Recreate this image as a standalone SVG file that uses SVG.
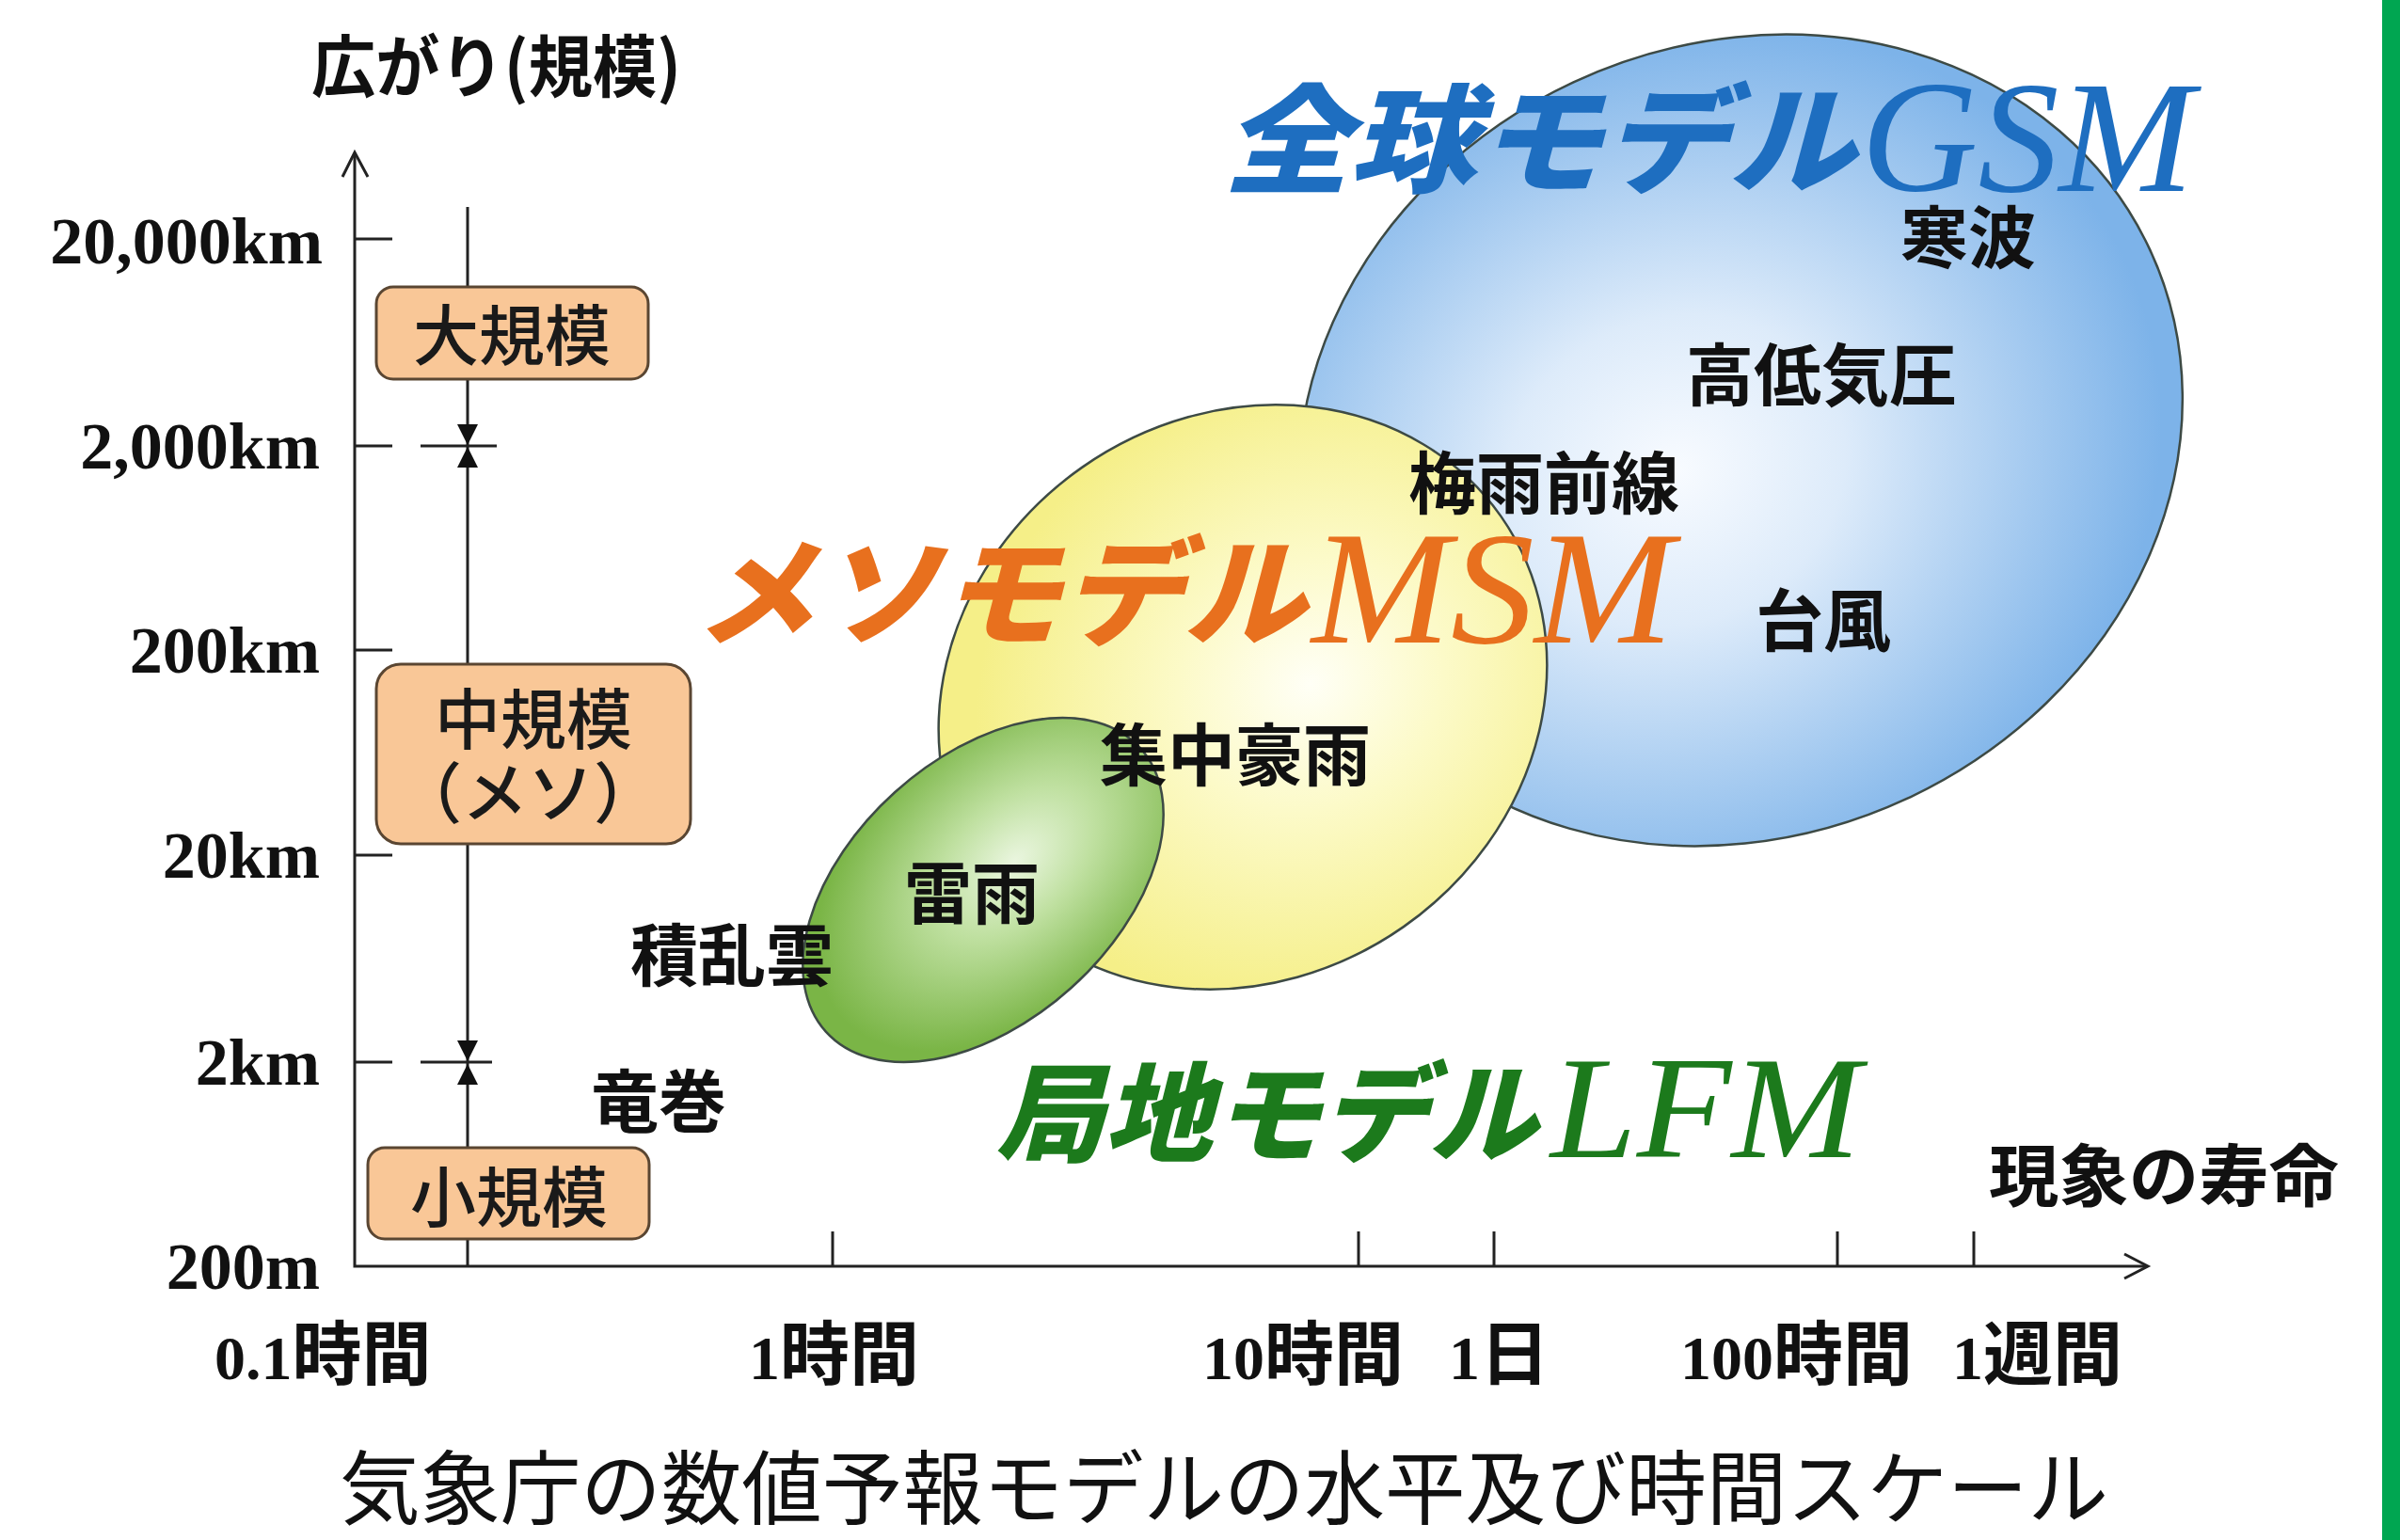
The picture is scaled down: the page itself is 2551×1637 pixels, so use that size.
<svg xmlns="http://www.w3.org/2000/svg" width="2551" height="1637" viewBox="0 0 2551 1637">
<style>
.jpb{font-family:"Noto Sans CJK JP",sans-serif;font-weight:700;fill:#111}
.jpn{font-family:"Noto Sans CJK JP",sans-serif;font-weight:500;fill:#1a1a1a}
.num{font-family:"Liberation Serif","Noto Sans CJK JP",serif;font-weight:700;fill:#111}
.kj{font-family:"Noto Sans CJK JP",sans-serif;font-weight:700;font-size:74px}
.ttl{font-family:"Noto Sans CJK JP",sans-serif;font-weight:900;font-style:italic}
.lat{font-family:"Liberation Serif",serif;font-style:italic;font-weight:400}
.ax{stroke:#222;stroke-width:3;fill:none}
.box{fill:#F9C797;stroke:#5a4632;stroke-width:3}
.ell{stroke:#3d4a45;stroke-width:2.5}
</style>
<defs>
<radialGradient id="gBlue" cx="0.42" cy="0.5" r="0.55">
<stop offset="0" stop-color="#F8FBFF"/>
<stop offset="0.35" stop-color="#DDEBFA"/>
<stop offset="1" stop-color="#7DB3E9"/>
</radialGradient>
<radialGradient id="gYel" cx="0.6" cy="0.55" r="0.55">
<stop offset="0" stop-color="#FFFFF6"/>
<stop offset="0.4" stop-color="#FCFAC8"/>
<stop offset="1" stop-color="#F5EF88"/>
</radialGradient>
<radialGradient id="gGrn" cx="0.6" cy="0.5" r="0.55">
<stop offset="0" stop-color="#EAF6DF"/>
<stop offset="0.4" stop-color="#BFE0A0"/>
<stop offset="1" stop-color="#7AB546"/>
</radialGradient>
</defs>
<rect x="0" y="0" width="2551" height="1637" fill="#ffffff"/>
<rect x="2532" y="0" width="19" height="1637" fill="#00A651"/>

<g id="axes">
<path class="ax" d="M377 163 V1346 H2282"/>
<path class="ax" d="M364 188 L377 162 L391 188"/>
<path class="ax" d="M2258 1333 L2283 1346 L2258 1359"/>
<path class="ax" d="M377 254 H417 M377 474 H417 M377 691 H417 M377 909 H417 M377 1129 H417"/>
<path class="ax" d="M885 1309 V1346 M1444 1309 V1346 M1588 1309 V1346 M1953 1309 V1346 M2098 1309 V1346"/>
</g>

<g id="scale-bar">
<path class="ax" d="M497 220 V1346"/>
<path class="ax" d="M447 474 H528 M447 1129 H523" stroke-width="2.5"/>
<path d="M486 451 L508 451 L497 473 Z M486 497 L508 497 L497 475 Z" fill="#111"/>
<path d="M486 1106 L508 1106 L497 1128 Z M486 1153 L508 1153 L497 1131 Z" fill="#111"/>
</g>

<g id="y-labels" text-anchor="end" font-size="70">
<text class="num" x="343" y="280">20,000km</text>
<text class="num" x="340" y="498">2,000km</text>
<text class="num" x="340" y="715">200km</text>
<text class="num" x="340" y="933">20km</text>
<text class="num" x="340" y="1153">2km</text>
<text class="num" x="340" y="1370">200m</text>
</g>

<g id="x-labels" font-size="66">
<text class="num" x="228" y="1466">0.1<tspan class="kj">時間</tspan></text>
<text class="num" x="796" y="1466">1<tspan class="kj">時間</tspan></text>
<text class="num" x="1278" y="1466">10<tspan class="kj">時間</tspan></text>
<text class="num" x="1540" y="1466">1<tspan class="kj">日</tspan></text>
<text class="num" x="1786" y="1466">100<tspan class="kj">時間</tspan></text>
<text class="num" x="2075" y="1466">1<tspan class="kj">週間</tspan></text>
</g>

<text id="y-title" class="jpb" x="331" y="97" font-size="72" textLength="393" lengthAdjust="spacingAndGlyphs">広がり(規模)</text>
<text id="x-title" class="jpb" x="2114" y="1276" font-size="72" textLength="372" lengthAdjust="spacingAndGlyphs">現象の寿命</text>

<g id="box-large">
<rect class="box" x="400" y="305" width="289" height="98" rx="18"/>
<text class="jpn" x="544" y="383" font-size="70" text-anchor="middle">大規模</text>
</g>
<g id="box-meso">
<rect class="box" x="400" y="706" width="334" height="191" rx="26"/>
<text class="jpn" x="567" y="791" font-size="70" text-anchor="middle">中規模</text>
<text class="jpn" x="561" y="869" font-size="70" text-anchor="middle">（メソ）</text>
</g>
<g id="box-small">
<rect class="box" x="391" y="1220" width="299" height="97" rx="18"/>
<text class="jpn" x="541" y="1299" font-size="70" text-anchor="middle">小規模</text>
</g>

<g id="gsm-ellipse">
<ellipse class="ell" cx="0" cy="0" rx="480" ry="420" fill="url(#gBlue)" transform="translate(1850 468) rotate(-25)"/>
</g>
<g id="msm-ellipse">
<ellipse class="ell" cx="0" cy="0" rx="335" ry="298" fill="url(#gYel)" transform="translate(1321 741) rotate(-35)"/>
</g>
<g id="lfm-ellipse">
<ellipse class="ell" cx="0" cy="0" rx="225" ry="140" fill="url(#gGrn)" transform="translate(1045 946) rotate(-42)"/>
</g>

<g id="gsm-title" fill="#1E6EC0">
<text class="ttl" x="1300" y="195" font-size="125" textLength="672" lengthAdjust="spacingAndGlyphs">全球モデル</text>
<text class="lat" x="1978" y="203" font-size="170" textLength="354" lengthAdjust="spacingAndGlyphs">GSM</text>
</g>
<g id="msm-title" fill="#E8701E">
<text class="ttl" x="738" y="676" font-size="125" textLength="650" lengthAdjust="spacingAndGlyphs">メソモデル</text>
<text class="lat" x="1394" y="683" font-size="172" textLength="385" lengthAdjust="spacingAndGlyphs">MSM</text>
</g>
<g id="lfm-title" fill="#1C7A1C">
<text class="ttl" x="1058" y="1226" font-size="115" textLength="576" lengthAdjust="spacingAndGlyphs">局地モデル</text>
<text class="lat" x="1648" y="1230" font-size="155" textLength="330" lengthAdjust="spacingAndGlyphs">LFM</text>
</g>

<g id="phenomena" font-size="72">
<text class="jpb" x="2020" y="279">寒波</text>
<text class="jpb" x="1792" y="425">高低気圧</text>
<text class="jpb" x="1497" y="540">梅雨前線</text>
<text class="jpb" x="1866" y="686">台風</text>
<text class="jpb" x="1169" y="829">集中豪雨</text>
<text class="jpb" x="961" y="976">雷雨</text>
<text class="jpb" x="670" y="1042">積乱雲</text>
<text class="jpb" x="628" y="1197">竜巻</text>
</g>

<text id="caption" x="1301" y="1614" font-family="'Noto Sans CJK JP',sans-serif" font-weight="400" font-size="86" fill="#111" text-anchor="middle" textLength="1880" lengthAdjust="spacingAndGlyphs">気象庁の数値予報モデルの水平及び時間スケール</text>
</svg>
